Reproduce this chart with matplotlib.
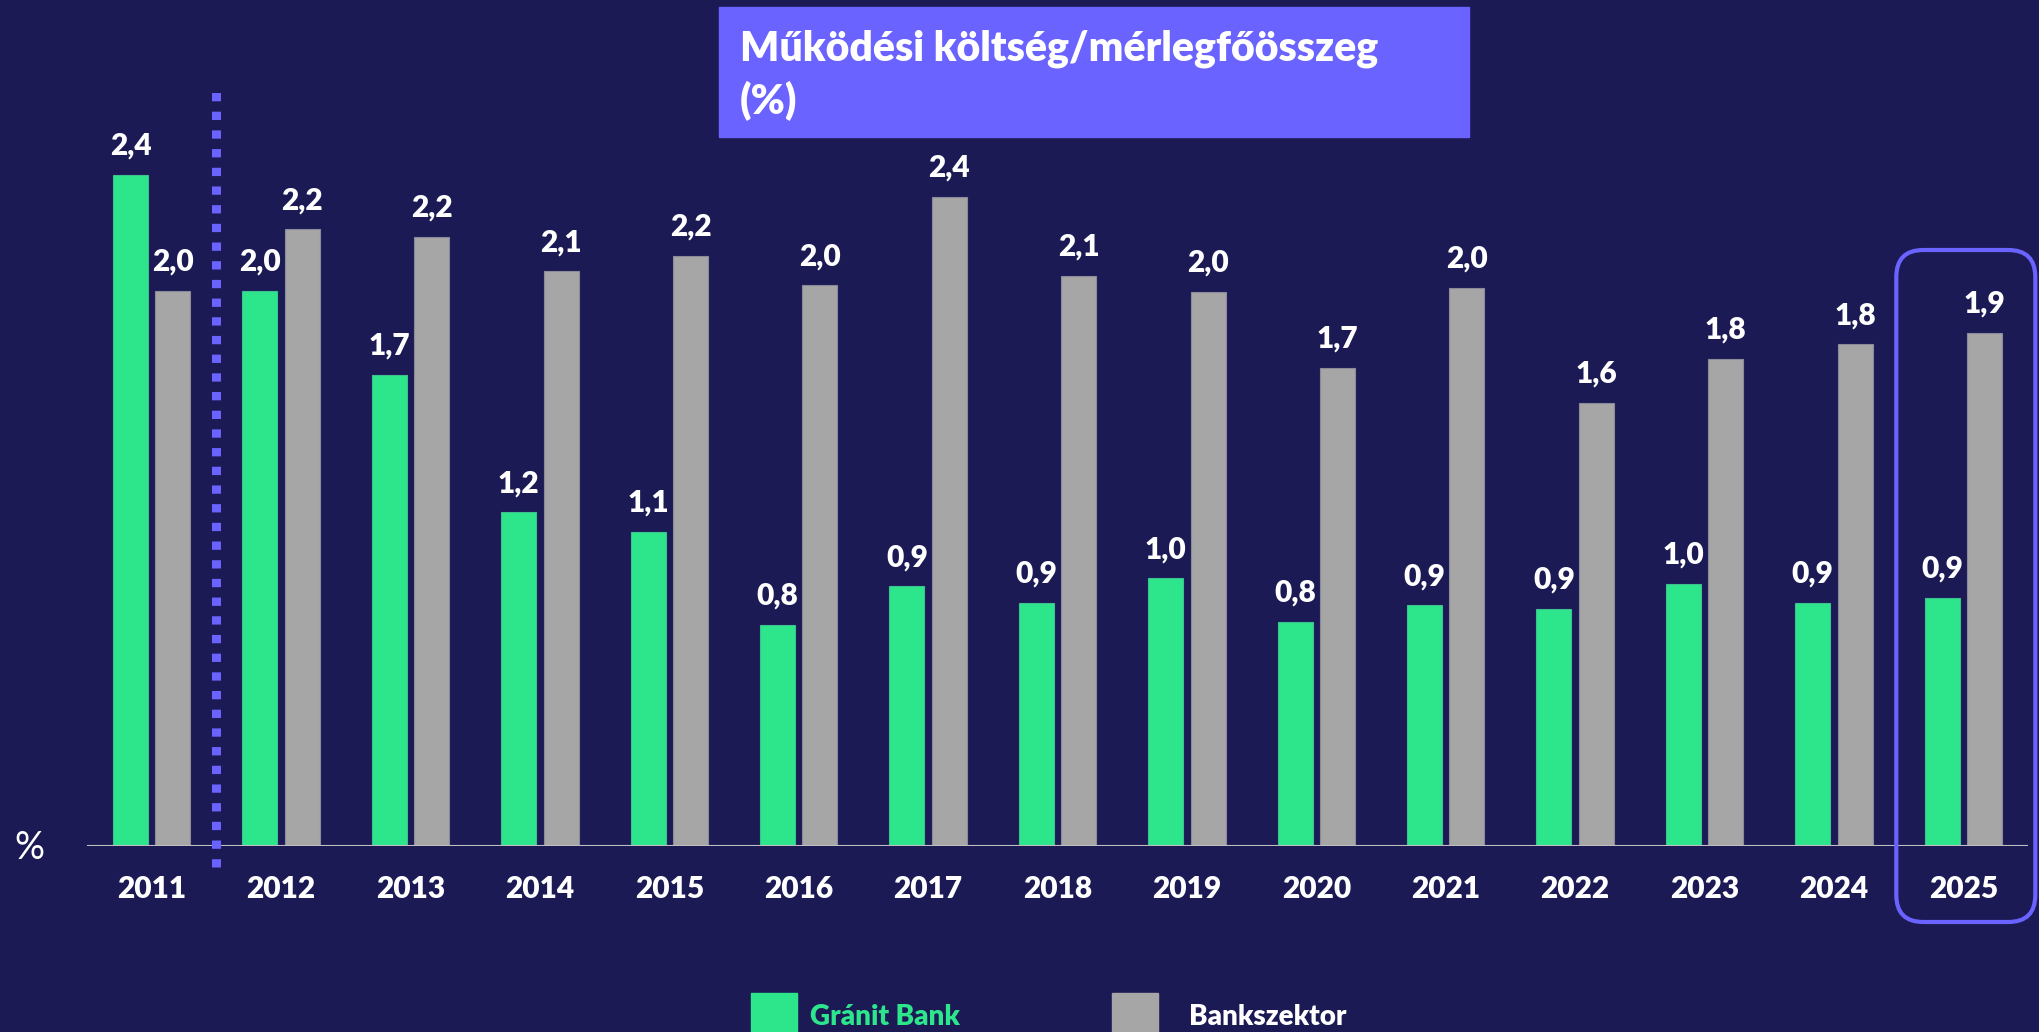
"""Operating cost / total assets: Gránit Bank vs. banking sector, 2011-2025."""
import matplotlib
matplotlib.use("Agg")
import matplotlib.pyplot as plt
from matplotlib.patches import FancyBboxPatch, Rectangle

# --- data -------------------------------------------------------------------
years = ["2011", "2012", "2013", "2014", "2015", "2016", "2017", "2018",
         "2019", "2020", "2021", "2022", "2023", "2024", "2025"]
granit = [2.446, 2.024, 1.717, 1.217, 1.146, 0.806, 0.947, 0.886,
          0.976, 0.817, 0.877, 0.864, 0.956, 0.886, 0.905]
sector = [2.024, 2.248, 2.220, 2.095, 2.152, 2.044, 2.367, 2.078,
          2.021, 1.742, 2.034, 1.615, 1.775, 1.829, 1.871]
series_names = ["Gránit Bank", "Bankszektor"]
title_lines = ["Működési költség/mérlegfőösszeg", "(%)"]
unit_label = "%"

# --- style ------------------------------------------------------------------
BG = "#1B1A55"
GREEN = "#2DE68C"
GREY = "#A6A6A6"
PURPLE = "#6A63FF"
FONT = ["Lato", "DejaVu Sans"]
BOLD = "heavy"

W, H = 2040, 1032          # output size in px (dpi 100)
PX_PER_UNIT = 274.3        # vertical scale of the bars
BASE_Y = 846               # baseline, px from top
AX_X0, AX_X1 = 87, 2028    # axis line extent, px
YMAX = 2.8


def fx(px):
    return px / W


def fy(px_from_top):
    return 1 - px_from_top / H


def fmt(v):
    return f"{v:.1f}".replace(".", ",")


def main():
    plt.rcParams["font.family"] = FONT
    fig = plt.figure(figsize=(W / 100, H / 100), dpi=100, facecolor=BG)

    ax_h = YMAX * PX_PER_UNIT / H
    ax = fig.add_axes([fx(AX_X0), fy(BASE_Y), fx(AX_X1 - AX_X0), ax_h])
    ax.set_facecolor(BG)
    ax.set_xlim(-0.5, len(years) - 0.5)
    ax.set_ylim(0, YMAX)
    for s in ax.spines.values():
        s.set_visible(False)
    ax.set_yticks([])

    x = list(range(len(years)))
    w, off = 0.27, 0.164
    b1 = ax.bar([i - off for i in x], granit, width=w, color=GREEN,
                edgecolor="#3FC08F", linewidth=0.8, zorder=3)
    b2 = ax.bar([i + off for i in x], sector, width=w, color=GREY,
                edgecolor="#8A8A9A", linewidth=0.8, zorder=3)
    for bars, vals in ((b1, granit), (b2, sector)):
        for bar, v in zip(bars, vals):
            ax.annotate(fmt(v), (bar.get_x() + bar.get_width() / 2, v),
                        xytext=(0, 14.5), textcoords="offset points",
                        ha="center", va="baseline", color="white",
                        fontsize=21.5, fontweight=BOLD)

    ax.axhline(0, color="#BFBFBF", linewidth=1.5, zorder=4)

    ax.set_xticks(x)
    ax.set_xticklabels(years, color="white", fontsize=21.5, fontweight=BOLD)
    ax.tick_params(axis="x", length=0, pad=21)

    # dotted divider between 2011 and 2012
    ax.plot([0.5, 0.5], [-21 / PX_PER_UNIT, (BASE_Y - 91) / PX_PER_UNIT],
            color=PURPLE, linewidth=6.5, linestyle=(0, (0.92, 1.15)),
            dash_capstyle="butt", clip_on=False, zorder=5)

    # rounded highlight box around the last year
    cat_px = (AX_X1 - AX_X0) / len(years)
    x0 = len(years) - 1 - (1964 - 1897) / cat_px
    x1 = len(years) - 1 + (2036 - 1964) / cat_px
    y0 = -(922 - BASE_Y) / PX_PER_UNIT
    y1 = (BASE_Y - 250) / PX_PER_UNIT
    box = FancyBboxPatch((x0, y0), x1 - x0, y1 - y0,
                         boxstyle=f"round,pad=0,rounding_size={27 / cat_px:.3f}",
                         mutation_aspect=cat_px / PX_PER_UNIT,
                         fill=False, edgecolor=PURPLE, linewidth=3,
                         clip_on=False, zorder=6)
    ax.add_patch(box)

    # title box
    fig.add_artist(Rectangle((fx(719), fy(136.7)), fx(750), 130 / H,
                             transform=fig.transFigure, color=PURPLE))
    fig.text(fx(740), fy(60), title_lines[0], color="white", fontsize=29.5,
             fontweight=BOLD, va="baseline")
    fig.text(fx(740), fy(114), title_lines[1], color="white", fontsize=29.5,
             fontweight=BOLD, va="baseline")

    fig.text(fx(14), fy(859), unit_label, color="white", fontsize=27,
             va="baseline")

    # legend
    fig.add_artist(Rectangle((fx(751), fy(1045)), fx(46), 52 / H,
                             transform=fig.transFigure, color=GREEN))
    fig.add_artist(Rectangle((fx(1112), fy(1045)), fx(46), 52 / H,
                             transform=fig.transFigure, color=GREY))
    fig.text(fx(810), fy(1025), series_names[0], color=GREEN, fontsize=20,
             fontweight=BOLD, va="baseline")
    fig.text(fx(1189), fy(1025), series_names[1], color="white", fontsize=20,
             fontweight=BOLD, va="baseline")

    fig.savefig("out.png", dpi=100, facecolor=BG)


if __name__ == "__main__":
    main()
